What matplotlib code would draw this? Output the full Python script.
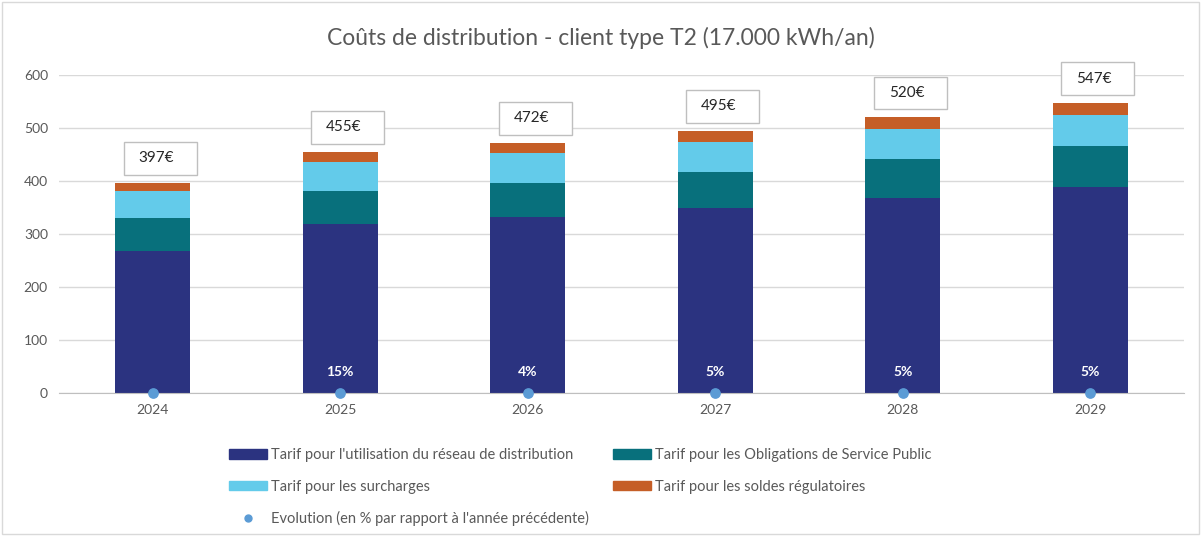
import matplotlib.pyplot as plt
import numpy as np
from matplotlib.patches import Rectangle, Patch
from matplotlib.lines import Line2D

plt.rcParams['font.family'] = ['Lato', 'DejaVu Sans']

years = ['2024', '2025', '2026', '2027', '2028', '2029']
reseau = [267, 319, 332, 349, 368, 389]
osp = [63, 63, 64, 68, 73, 77]
surcharges = [51, 54, 57, 57, 58, 58]
soldes = [16, 19, 19, 21, 21, 23]
totals = [397, 455, 472, 495, 520, 547]
evolution = [None, 15, 4, 5, 5, 5]

labels = ["Tarif pour l'utilisation du réseau de distribution",
          "Tarif pour les Obligations de Service Public",
          "Tarif pour les surcharges",
          "Tarif pour les soldes régulatoires"]
colors = ['#2B3380', '#08707C', '#63CBEA', '#C55E27']
dot_color = '#5B9BD5'
text_color = '#595959'

fig = plt.figure(figsize=(12.01, 5.36), dpi=100)
ax = fig.add_axes([59 / 1201, 1 - 393 / 536, 1125 / 1201, 318 / 536])

x = np.arange(len(years))
bottom = np.zeros(len(years))
for vals, col in zip([reseau, osp, surcharges, soldes], colors):
    ax.bar(x, vals, width=0.4, bottom=bottom, color=col, zorder=2)
    bottom += np.array(vals)

# evolution dots at 0 with % labels
ax.scatter(x, [0] * len(x), s=45, color=dot_color, zorder=4, clip_on=False)
for xi, ev in zip(x, evolution):
    if ev is not None:
        ax.annotate(f'{ev}%', (xi, 0), xytext=(0, 11), textcoords='offset points',
                    ha='center', va='bottom', color='white', fontsize=10,
                    fontweight='bold', zorder=5)

# total boxes
for xi, tot in zip(x, totals):
    ax.add_patch(Rectangle((xi + 0.04 - 0.195, tot + 46 - 31), 0.39, 62,
                           fc='white', ec='#BFBFBF', lw=1, zorder=5, clip_on=False))
    ax.text(xi + 0.02, tot + 46, f'{tot}€', ha='center', va='center',
            fontsize=11, color='#262626', zorder=6)

ax.set_xlim(-0.5, len(years) - 0.5)
ax.set_ylim(0, 600)
ax.set_yticks(range(0, 601, 100))
ax.set_xticks(x)
ax.set_xticklabels(years)
ax.grid(axis='y', color='#D9D9D9', lw=1, zorder=0)
for s in ['top', 'right', 'left']:
    ax.spines[s].set_visible(False)
ax.spines['bottom'].set_color('#BFBFBF')
ax.tick_params(axis='both', length=0, labelsize=10, colors=text_color, pad=8)

fig.text(0.5, 1 - 38 / 536, 'Coûts de distribution - client type T2 (17.000 kWh/an)',
         ha='center', va='center', fontsize=16.5, color=text_color)

handles = [Patch(color=colors[0]), Patch(color=colors[2]),
           Line2D([], [], marker='o', ls='', color=dot_color, markersize=5),
           Patch(color=colors[1]), Patch(color=colors[3])]
leg_labels = [labels[0], labels[2], 'Evolution (en % par rapport à l\'année précédente)',
              labels[1], labels[3]]
fig.legend(handles, leg_labels, ncol=2, loc='upper left',
           bbox_to_anchor=(216 / 1201, 1 - 435 / 536), frameon=False,
           fontsize=10.5, labelcolor=text_color, handlelength=2.6, handleheight=0.6,
           handletextpad=0.3, columnspacing=1.6, labelspacing=1.2)

fig.patches.append(Rectangle((0.002, 0.004), 0.996, 0.992, transform=fig.transFigure,
                             fill=False, ec='#D9D9D9', lw=1))

fig.savefig('out.png', dpi=100)
